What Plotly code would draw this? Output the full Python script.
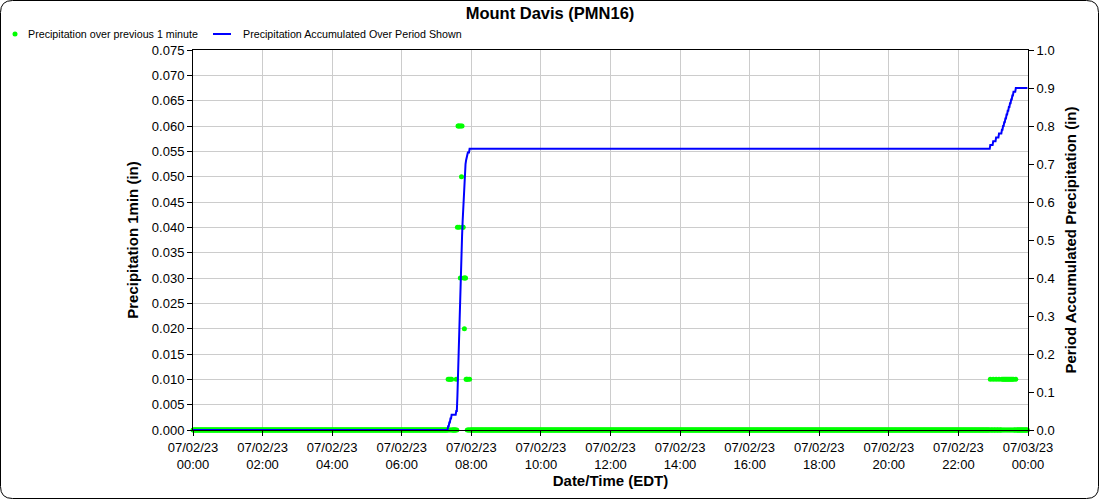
import pandas as pd
import plotly.graph_objects as go

# ---- data ----
day = "2023-07-02"
period_start = "2023-07-02 00:00"
period_end = "2023-07-02 23:59"

# non-zero 1-minute precipitation readings (in); every other minute reads 0.00
rain_times = ["07:20", "07:22", "07:24", "07:26", "07:34", "07:36", "07:37", "07:38",
              "07:39", "07:40", "07:41", "07:42", "07:43", "07:44", "07:45", "07:46",
              "07:47", "07:48", "07:49", "07:50", "07:51", "07:52", "07:54", "07:57",
              "22:55", "23:00", "23:05", "23:10", "23:15", "23:17", "23:19", "23:21",
              "23:23", "23:25", "23:27", "23:29", "23:31", "23:33", "23:35", "23:39"]
rain_values = [0.01, 0.01, 0.01, 0.01, 0.01, 0.04, 0.06, 0.06,
               0.04, 0.06, 0.03, 0.06, 0.05, 0.06, 0.04, 0.04,
               0.03, 0.02, 0.03, 0.03, 0.01, 0.01, 0.01, 0.01,
               0.01, 0.01, 0.01, 0.01, 0.01, 0.01, 0.01, 0.01,
               0.01, 0.01, 0.01, 0.01, 0.01, 0.01, 0.01, 0.01]

tick_vals = ["2023-07-02 00:00", "2023-07-02 02:00", "2023-07-02 04:00", "2023-07-02 06:00",
             "2023-07-02 08:00", "2023-07-02 10:00", "2023-07-02 12:00", "2023-07-02 14:00",
             "2023-07-02 16:00", "2023-07-02 18:00", "2023-07-02 20:00", "2023-07-02 22:00",
             "2023-07-03 00:00"]
tick_text = ["07/02/23<br>00:00", "07/02/23<br>02:00", "07/02/23<br>04:00", "07/02/23<br>06:00",
             "07/02/23<br>08:00", "07/02/23<br>10:00", "07/02/23<br>12:00", "07/02/23<br>14:00",
             "07/02/23<br>16:00", "07/02/23<br>18:00", "07/02/23<br>20:00", "07/02/23<br>22:00",
             "07/03/23<br>00:00"]

series_names = ["Precipitation over previous 1 minute",
                "Precipitation Accumulated Over Period Shown"]
green = "#00ff00"
blue = "#0000ff"

# ---- build series ----
minutes = pd.date_range(period_start, period_end, freq="min")
one_min = pd.Series(0.0, index=minutes)
for t, v in zip(rain_times, rain_values):
    one_min[pd.Timestamp(f"{day} {t}")] = v
accum = one_min.cumsum().round(3)

fig = go.Figure()
fig.add_trace(go.Scatter(
    x=minutes, y=accum.values, yaxis="y2", mode="lines",
    line=dict(color=blue, width=2), name=series_names[1], showlegend=False,
))
fig.add_trace(go.Scatter(
    x=minutes, y=one_min.values, mode="markers",
    marker=dict(color=green, size=5, line=dict(width=0)),
    name=series_names[0], cliponaxis=False, showlegend=False,
))

font = "Liberation Sans, Arial, sans-serif"
L, R, T, B = 193, 72, 50, 70
W, H = 1100, 500
pw, ph = W - L - R, H - T - B

def px2x(p):
    return (p - L) / pw

def px2y(p):
    return (H - B - p) / ph

# rounded outer border
x0, x1 = px2x(0.5), px2x(W - 1.5)
y0, y1 = px2y(H - 1.5), px2y(0.5)
rx, ry = 12 / pw, 12 / ph
path = (f"M {x0+rx},{y1} L {x1-rx},{y1} Q {x1},{y1} {x1},{y1-ry} "
        f"L {x1},{y0+ry} Q {x1},{y0} {x1-rx},{y0} L {x0+rx},{y0} "
        f"Q {x0},{y0} {x0},{y0+ry} L {x0},{y1-ry} Q {x0},{y1} {x0+rx},{y1} Z")

# custom legend (symbols + labels)
leg_y = px2y(34)
shapes = [
    dict(type="path", xref="paper", yref="paper", path=path,
         line=dict(color="#000", width=1), fillcolor="rgba(0,0,0,0)", layer="below"),
    dict(type="circle", xref="paper", yref="paper",
         x0=px2x(12.5), x1=px2x(17.5), y0=px2y(36.5), y1=px2y(31.5),
         fillcolor=green, line=dict(width=0)),
    dict(type="line", xref="paper", yref="paper",
         x0=px2x(213), x1=px2x(231), y0=leg_y, y1=leg_y,
         line=dict(color=blue, width=2)),
]
annotations = [
    dict(text=series_names[0], xref="paper", yref="paper", x=px2x(26), y=leg_y,
         xanchor="left", yanchor="middle", showarrow=False, font=dict(size=10.7)),
    dict(text=series_names[1], xref="paper", yref="paper", x=px2x(241), y=leg_y,
         xanchor="left", yanchor="middle", showarrow=False, font=dict(size=10.7)),
]

fig.update_layout(
    width=W, height=H,
    margin=dict(l=L, r=R, t=T, b=B),
    paper_bgcolor="white", plot_bgcolor="white",
    font=dict(family=font, size=13, color="#000"),
    title=dict(text="<b>Mount Davis (PMN16)</b>", x=0.5, xanchor="center",
               y=1 - 13 / H, yanchor="middle", font=dict(size=16.5)),
    showlegend=False,
    hovermode=False,
    xaxis=dict(
        type="date", range=["2023-07-02 00:00", "2023-07-03 00:00"],
        tickvals=tick_vals, ticktext=tick_text,
        showgrid=True, gridcolor="#cccccc", gridwidth=1,
        showline=True, linecolor="#000", linewidth=1, mirror=True,
        ticks="outside", ticklen=5, tickcolor="#000",
        title=dict(text="<b>Date/Time (EDT)</b>", font=dict(size=15), standoff=3),
        zeroline=False,
    ),
    yaxis=dict(
        range=[0, 0.075], dtick=0.005, tickformat=".3f",
        showgrid=True, gridcolor="#cccccc", gridwidth=1,
        showline=True, linecolor="#000", linewidth=1,
        ticks="outside", ticklen=5, tickcolor="#000",
        title=dict(text="<b>Precipitation 1min (in)</b>", font=dict(size=15), standoff=9),
        zeroline=False,
    ),
    yaxis2=dict(
        range=[0, 1.0], dtick=0.1, tickformat=".1f", overlaying="y", side="right",
        showgrid=False, showline=True, linecolor="#000", linewidth=1,
        ticks="outside", ticklen=5, tickcolor="#000",
        title=dict(text="<b>Period Accumulated Precipitation (in)</b>", font=dict(size=15), standoff=11),
        zeroline=False,
    ),
    shapes=shapes,
    annotations=annotations,
)

fig.write_html("out.html", config={"displayModeBar": False},
               post_script="document.body.style.margin='0px';")
